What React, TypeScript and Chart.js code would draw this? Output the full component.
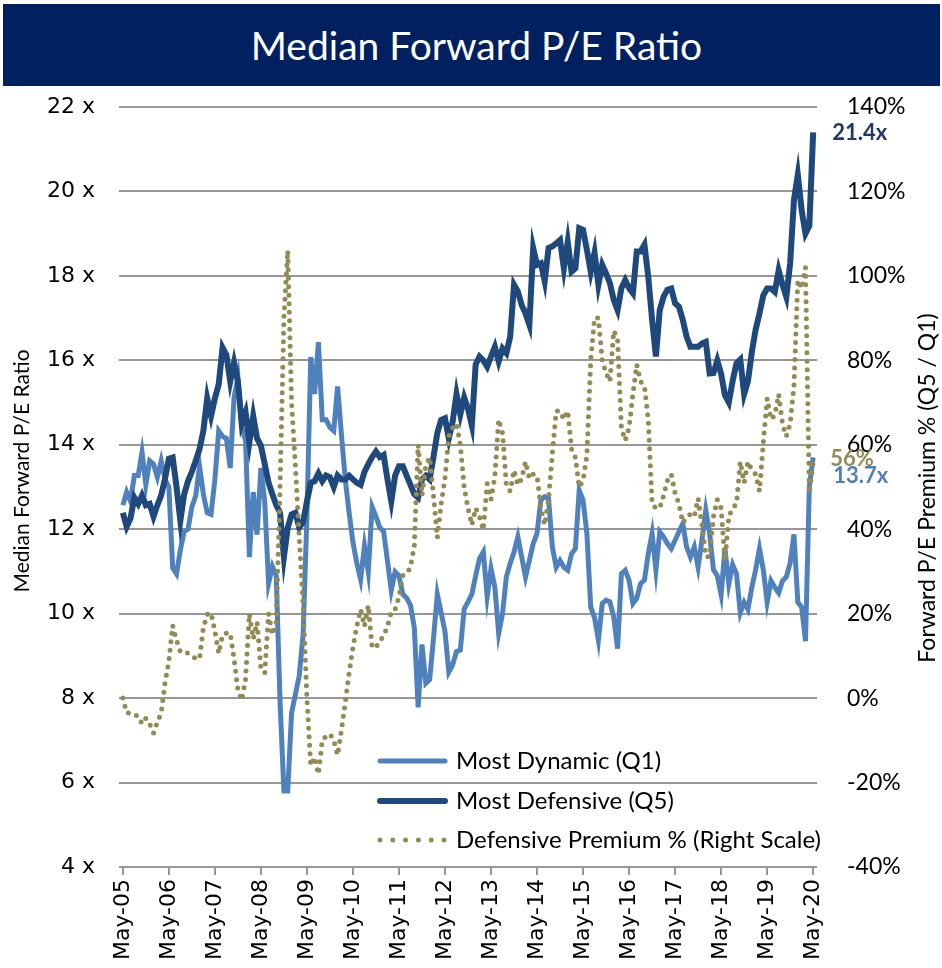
import React, { useEffect, useRef } from 'react';
import { Chart, registerables } from 'chart.js';

Chart.register(...registerables);

const chartTitle = 'Median Forward P/E Ratio';
const leftAxisTitle = 'Median Forward P/E Ratio';
const rightAxisTitle = 'Forward P/E Premium % (Q5 / Q1)';

const yearTicks = ['May-05', 'May-06', 'May-07', 'May-08', 'May-09', 'May-10', 'May-11', 'May-12', 'May-13', 'May-14', 'May-15', 'May-16', 'May-17', 'May-18', 'May-19', 'May-20'];

// monthly, May-05 .. May-20 (181 points)
const mostDynamicQ1 = [
  12.57, 12.88, 12.66, 13.27, 13.27, 13.82, 13.05, 13.62, 13.54, 13.23, 13.62, 13.18,
  13.0, 11.08, 10.94, 11.51, 11.95, 12.0, 12.53, 12.79, 13.49, 12.83, 12.39, 12.35,
  13.18, 14.33, 14.2, 14.15, 13.45, 15.12, 15.6, 14.41, 14.1, 11.34, 12.88, 11.87,
  13.45, 12.66, 10.72, 11.12, 10.9, 7.9, 5.8, 5.8, 7.65, 8.09, 8.53, 9.5,
  12.3, 16.08, 15.2, 16.43, 14.59, 14.59, 14.41, 14.33, 15.38, 14.24, 13.18, 12.39,
  11.69, 11.2, 10.81, 11.6, 10.99, 12.53, 12.3, 12.04, 11.95, 11.25, 10.55, 10.99,
  10.9, 10.46, 10.37, 10.2, 9.67, 7.78, 9.27, 8.35, 8.44, 9.41, 10.46, 10.02,
  9.58, 8.62, 8.79, 9.1, 9.14, 10.11, 10.28, 10.46, 10.9, 11.3, 11.46, 10.4,
  11.07, 10.63, 9.53, 10.0, 10.87, 11.19, 11.46, 11.82, 11.34, 10.87, 11.26, 11.66,
  11.9, 12.69, 12.77, 12.73, 11.58, 11.1, 11.26, 11.1, 11.03, 11.42, 11.54, 12.92,
  12.69, 11.9, 10.16, 9.9, 9.37, 10.24, 10.32, 10.28, 9.92, 9.17, 10.95, 11.03,
  10.79, 10.24, 10.36, 10.71, 10.79, 11.42, 11.9, 11.03, 11.94, 11.82, 11.66, 11.54,
  11.74, 11.94, 12.13, 11.58, 11.34, 11.58, 11.1, 11.74, 12.45, 11.9, 11.04, 10.9,
  10.45, 11.54, 10.7, 11.16, 10.95, 10.02, 10.27, 10.1, 10.62, 11.04, 11.54, 11.04,
  10.27, 10.78, 10.62, 10.49, 10.78, 10.87, 11.2, 11.88, 10.27, 10.15, 9.35, 13.0,
  13.7,
];

const mostDefensiveQ5 = [
  12.39, 12.06, 12.26, 12.75, 12.6, 12.8, 12.57, 12.6, 12.3, 12.57, 12.8, 13.2,
  13.67, 13.7, 13.0, 12.2, 12.83, 13.14, 13.36, 13.62, 13.9, 14.33, 15.1, 14.68,
  15.1, 15.43, 16.3, 16.13, 15.5, 15.95, 15.5, 14.5, 14.77, 14.06, 14.68, 14.15,
  13.98, 13.54, 13.1, 12.83, 12.57, 12.39, 11.34, 12.04, 12.35, 12.39, 12.04, 12.17,
  12.66, 13.1, 13.14, 13.32, 13.14, 13.27, 13.23, 13.0, 13.27, 13.18, 13.18, 13.27,
  13.18, 13.1, 13.05, 13.36, 13.54, 13.71, 13.84, 13.71, 13.76, 13.18, 12.66, 13.27,
  13.49, 13.49, 13.27, 13.05, 12.83, 12.75, 13.18, 13.27, 13.18, 13.71, 14.28, 14.59,
  14.63, 14.15, 14.55, 15.2, 14.72, 15.12, 14.85, 14.46, 15.9, 16.09, 16.0, 15.85,
  16.09, 16.32, 15.97, 16.28, 16.17, 16.56, 17.79, 17.63, 17.31, 17.11, 16.84, 18.66,
  18.26, 18.3, 17.87, 18.66, 18.7, 18.77, 18.85, 18.18, 18.81, 18.1, 18.18, 19.13,
  19.09, 18.62, 18.1, 18.55, 17.79, 18.26, 18.06, 17.83, 17.43, 17.19, 17.71, 17.9,
  17.71, 17.59, 18.58, 18.58, 18.74, 17.98, 16.96, 16.09, 17.19, 17.51, 17.67, 17.7,
  17.35, 17.27, 16.96, 16.56, 16.32, 16.32, 16.32, 16.4, 16.44, 15.69, 15.7, 16.0,
  15.68, 15.17, 15.0, 15.51, 15.93, 16.02, 15.2, 15.51, 16.19, 16.73, 17.11, 17.54,
  17.7, 17.7, 17.62, 18.13, 17.79, 17.5, 18.3, 19.8, 20.4, 19.56, 19.0, 19.18,
  21.4,
];

const defensivePremium = [
  0, -3.5, -3.5, -3.9, -4.3, -6.1, -4.8, -6.1, -8.3, -5.7, -3.5, 3.6,
  8.8, 17.2, 13.7, 11.0, 11.0, 10.6, 10.1, 9.3, 9.3, 16.7, 19.8, 20.2,
  15.9, 10.6, 15.0, 15.4, 15.4, 9.3, 2, -0.5, 4.5, 20, 14, 18,
  7, 6, 20, 15, 18, 50, 90, 106, 70, 55, 38, 22,
  0, -16, -14, -18, -10, -9, -8.5, -10, -13.5, -7.5, -1, 6,
  12, 17, 21, 17, 22, 12, 12, 13.5, 14.7, 17, 20.5, 21,
  24, 29, 29.5, 31, 36, 60, 48, 55, 57, 48, 38, 46,
  52, 62, 64, 65, 60, 50, 45, 41, 45, 43, 39.8, 50.8,
  47, 52.5, 66, 62.8, 50.5, 49, 54, 50.5, 52, 56, 52, 53,
  52.7, 45, 41, 47, 58, 68, 68, 66, 68, 59, 57, 50,
  51.5, 57.5, 80, 90, 90, 80, 77, 75, 87, 85, 64, 61,
  64, 72, 79, 75, 74, 66, 46, 45, 45, 48, 51.5, 53,
  48.5, 46, 41.5, 42.7, 43.6, 43, 47.3, 41, 33.5, 33.5, 43, 47,
  45, 32.5, 43, 45, 46, 56, 51, 56, 54, 53, 49, 60.5,
  71, 66, 67, 72, 65, 62, 65, 74, 99, 97, 102, 48.5,
  56,
];

const q1Color = '#4F81BD';
const q5Color = '#1F497D';
const premColor = '#948A54';
const gridColor = '#979797';

export default function App() {
  const canvasRef = useRef<HTMLCanvasElement | null>(null);

  useEffect(() => {
    document.body.style.margin = '0';
    const toPoints = (arr: number[]) => arr.map((v, i) => ({ x: i, y: v }));

    const overlay = {
      id: 'overlay',
      afterDraw(chart: any) {
        const ctx = chart.ctx as CanvasRenderingContext2D;
        const xs = chart.scales.x;
        const ys = chart.scales.y;
        const ys1 = chart.scales.y1;
        ctx.save();
        // axis titles
        ctx.fillStyle = '#000';
        ctx.textAlign = 'center';
        ctx.textBaseline = 'middle';
        ctx.font = '21px Lato';
        ctx.save();
        ctx.translate(22, 471);
        ctx.rotate(-Math.PI / 2);
        ctx.fillText(leftAxisTitle, 0, 0);
        ctx.restore();
        ctx.font = '23px Lato';
        ctx.save();
        ctx.translate(928, 488);
        ctx.rotate(-Math.PI / 2);
        ctx.fillText(rightAxisTitle, 0, 0);
        ctx.restore();

        // legend
        const order = [0, 1, 2];
        const rowsY = [761, 801, 840];
        order.forEach((di, r) => {
          const ds = chart.data.datasets[di];
          const yy = rowsY[r];
          ctx.save();
          ctx.strokeStyle = ds.borderColor;
          ctx.lineWidth = ds.borderWidth;
          ctx.lineCap = 'round';
          if (ds.borderDash && ds.borderDash.length) {
            ctx.setLineDash([0, 12.8]);
          }
          ctx.beginPath();
          ctx.moveTo(380, yy);
          ctx.lineTo(445, yy);
          ctx.stroke();
          ctx.restore();
          ctx.fillStyle = '#000';
          ctx.font = '24px Lato';
          ctx.textAlign = 'left';
          ctx.textBaseline = 'middle';
          ctx.fillText(ds.label, 456, yy);
        });

        // end labels
        const last = mostDefensiveQ5.length - 1;
        const xp = xs.getPixelForValue(last);
        ctx.font = 'bold 22px Lato';
        ctx.textAlign = 'left';
        ctx.textBaseline = 'middle';
        ctx.fillStyle = '#1F3864';
        ctx.fillText(`${mostDefensiveQ5[last]}x`, xp + 19, ys.getPixelForValue(mostDefensiveQ5[last]) + 1);
        ctx.fillStyle = premColor;
        ctx.fillText(`${Math.round(defensivePremium[last])}%`, xp + 17, ys1.getPixelForValue(defensivePremium[last]) - 3);
        ctx.fillStyle = q1Color;
        ctx.fillText(`${mostDynamicQ1[last]}x`, xp + 20, ys.getPixelForValue(mostDynamicQ1[last]) + 18);
        ctx.restore();
      },
    };

    const chart = new Chart(canvasRef.current as HTMLCanvasElement, {
      type: 'line',
      data: {
        datasets: [
          {
            label: 'Most Dynamic (Q1)',
            data: toPoints(mostDynamicQ1),
            yAxisID: 'y',
            borderColor: q1Color,
            borderWidth: 5,
            pointRadius: 0,
            tension: 0,
            order: 3,
          },
          {
            label: 'Most Defensive (Q5)',
            data: toPoints(mostDefensiveQ5),
            yAxisID: 'y',
            borderColor: q5Color,
            borderWidth: 6,
            pointRadius: 0,
            tension: 0,
            order: 2,
          },
          {
            label: 'Defensive Premium % (Right Scale)',
            data: toPoints(defensivePremium),
            yAxisID: 'y1',
            borderColor: premColor,
            borderWidth: 5,
            borderDash: [0, 8.5],
            borderCapStyle: 'round',
            pointRadius: 0,
            tension: 0,
            order: 1,
          },
        ],
      } as any,
      options: {
        responsive: false,
        animation: false,
        devicePixelRatio: 1,
        layout: { padding: { top: 107, left: 0, right: 0, bottom: 0 } },
        plugins: {
          legend: { display: false },
          tooltip: { enabled: false },
          title: { display: false },
        },
        scales: {
          x: {
            type: 'linear',
            min: -1,
            max: 181,
            afterBuildTicks: (axis: any) => {
              axis.ticks = yearTicks.map((_, i) => ({ value: i * 12 }));
            },
            afterFit: (s: any) => {
              s.height = 101;
            },
            ticks: {
              autoSkip: false,
              maxRotation: 90,
              minRotation: 90,
              padding: 4,
              color: '#000',
              font: { family: 'DejaVu Sans', size: 22 },
              callback: (_v: any, i: number) => yearTicks[i],
            },
            grid: { drawOnChartArea: false, drawTicks: true, tickLength: 8, color: gridColor, lineWidth: 2 },
            border: { display: false },
          },
          y: {
            position: 'left',
            min: 4,
            max: 22,
            afterFit: (s: any) => {
              s.width = 119;
            },
            ticks: {
              stepSize: 2,
              padding: 24,
              color: '#000',
              font: { family: 'DejaVu Sans', size: 22 },
              callback: (v: any) => `${v} x`,
            },
            grid: { color: gridColor, lineWidth: 2, drawTicks: false },
            border: { display: false },
          },
          y1: {
            position: 'right',
            min: -40,
            max: 140,
            afterFit: (s: any) => {
              s.width = 125;
            },
            ticks: {
              stepSize: 20,
              padding: 30,
              color: '#000',
              font: { family: 'Lato', size: 23 },
              callback: (v: any) => `${v}%`,
            },
            grid: { drawOnChartArea: false, drawTicks: false },
            border: { display: false },
          },
        },
      } as any,
      plugins: [overlay],
    });
    return () => chart.destroy();
  }, []);

  return (
    <div style={{ position: 'relative', width: 942, height: 968, background: '#fff', overflow: 'hidden' }}>
      <canvas ref={canvasRef} width={942} height={968} style={{ position: 'absolute', left: 0, top: 0, width: 942, height: 968 }} />
      <div
        style={{
          position: 'absolute',
          left: 3,
          top: 4,
          width: 937,
          height: 82,
          background: '#002060',
          color: '#fff',
          display: 'flex',
          alignItems: 'center',
          justifyContent: 'center',
          paddingLeft: 10,
          boxSizing: 'border-box',
          fontFamily: 'Lato, sans-serif',
          fontSize: 39,
        }}
      >
        {chartTitle}
      </div>
    </div>
  );
}
